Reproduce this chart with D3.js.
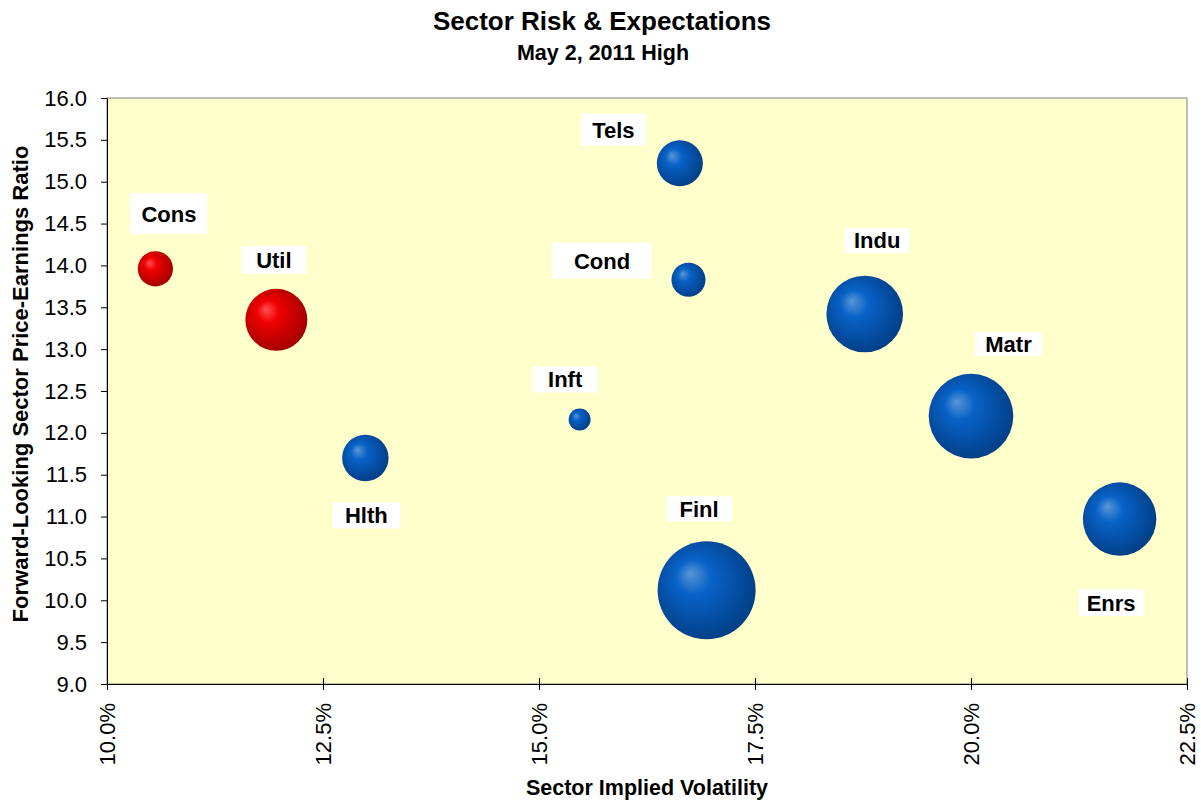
<!DOCTYPE html>
<html>
<head>
<meta charset="utf-8">
<script src="https://cdn.jsdelivr.net/npm/d3@7"></script>
<style>
  body { margin: 0; background: #fff; }
  text { font-family: "Liberation Sans", Arial, sans-serif; fill: #000; }
</style>
</head>
<body>
<div id="chart"></div>
<script>
// sector data
var sectors = ["Cons", "Util", "Hlth", "Inft", "Tels", "Cond", "Finl", "Indu", "Matr", "Enrs"];
var volatility = [10.56, 11.96, 12.99, 15.47, 16.63, 16.73, 16.94, 18.77, 20.0, 21.72]; // %
var forwardPE = [13.96, 13.35, 11.70, 12.16, 15.22, 13.83, 10.12, 13.42, 12.20, 10.97];
var bubbleSize = [3.1, 9.6, 5.4, 1.2, 5.3, 2.9, 24.0, 14.7, 17.9, 13.5];
var group = ["defensive", "defensive", "other", "other", "other", "other", "other", "other", "other", "other"];

var xTicks = [10, 12.5, 15, 17.5, 20, 22.5];
var yTicks = [9, 9.5, 10, 10.5, 11, 11.5, 12, 12.5, 13, 13.5, 14, 14.5, 15, 15.5, 16];

// label box placement relative to the bubble centre (pixels)
var labelLayout = [
    {dx: 13.5, dy: -55, w: 77, h: 41},
    {dx: -2.5, dy: -60, w: 65, h: 28},
    {dx: 1, dy: 57.5, w: 68, h: 26},
    {dx: -14.5, dy: -40, w: 65, h: 26},
    {dx: -66.5, dy: -33.5, w: 65, h: 32},
    {dx: -86.5, dy: -19, w: 99, h: 36},
    {dx: -7.5, dy: -81.5, w: 66, h: 25},
    {dx: 12.5, dy: -73.5, w: 65, h: 25},
    {dx: 37.5, dy: -72, w: 67, h: 24},
    {dx: -8.5, dy: 83.5, w: 65, h: 27}
];

var width = 1201, height = 800;
var margin = {top: 98, right: 14, bottom: 116, left: 107};
var plotW = width - margin.left - margin.right,
    plotH = height - margin.top - margin.bottom;

var svg = d3.select("#chart").append("svg")
    .attr("width", width)
    .attr("height", height);

// sphere-looking gradients
var defs = svg.append("defs");
function sphere(id, hi, mid, edge) {
    var g = defs.append("radialGradient")
        .attr("id", id)
        .attr("cx", "0.45").attr("cy", "0.45")
        .attr("fx", "0.33").attr("fy", "0.33")
        .attr("r", "0.6");
    g.append("stop").attr("offset", "0%").attr("stop-color", hi);
    g.append("stop").attr("offset", "30%").attr("stop-color", mid);
    g.append("stop").attr("offset", "100%").attr("stop-color", edge);
}
sphere("blueBall", "#5a96d6", "#0862c8", "#023c82");
sphere("redBall", "#ff5050", "#f00000", "#9e0000");

var x = d3.scaleLinear().domain([10, 22.5]).range([0, plotW]);
var y = d3.scaleLinear().domain([9, 16]).range([plotH, 0]);
var r = d3.scaleSqrt().domain([0, d3.max(bubbleSize)]).range([0, 49]);

var g = svg.append("g")
    .attr("transform", "translate(" + margin.left + "," + margin.top + ")");

// plot area
g.append("rect")
    .attr("width", plotW)
    .attr("height", plotH)
    .attr("fill", "#ffffcc")
    .attr("stroke", "#808080")
    .attr("stroke-width", 1);

// y axis
var yAxis = g.append("g")
    .call(d3.axisLeft(y).tickValues(yTicks).tickSize(6).tickSizeOuter(0).tickFormat(d3.format(".1f")));
yAxis.select(".domain").attr("stroke", "#000");
yAxis.selectAll(".tick line").attr("stroke", "#000");
yAxis.selectAll("text")
    .attr("x", -20)
    .style("font-size", "22px");

// x axis, ticks cross the axis line
var xAxis = g.append("g")
    .attr("transform", "translate(0," + plotH + ")")
    .call(d3.axisBottom(x).tickValues(xTicks).tickSize(6).tickSizeOuter(0)
        .tickFormat(function(d) { return d3.format(".1f")(d) + "%"; }));
xAxis.select(".domain").attr("stroke", "#000");
xAxis.selectAll(".tick line").attr("stroke", "#000").attr("y1", -6);
xAxis.selectAll("text")
    .attr("transform", "rotate(-90)")
    .attr("x", -19)
    .attr("y", 0)
    .attr("dy", "0.35em")
    .attr("text-anchor", "end")
    .style("font-size", "22px");

// bubbles
var data = sectors.map(function(name, i) {
    return {name: name, vol: volatility[i], pe: forwardPE[i], size: bubbleSize[i], group: group[i], lab: labelLayout[i]};
});

g.selectAll("circle.bubble")
    .data(data.slice().sort(function(a, b) { return b.size - a.size; }))
    .enter().append("circle")
    .attr("class", "bubble")
    .attr("cx", function(d) { return x(d.vol); })
    .attr("cy", function(d) { return y(d.pe); })
    .attr("r", function(d) { return r(d.size); })
    .attr("fill", function(d) { return d.group === "defensive" ? "url(#redBall)" : "url(#blueBall)"; });

// data labels in white boxes
var labels = g.selectAll("g.label")
    .data(data)
    .enter().append("g")
    .attr("class", "label")
    .attr("transform", function(d) {
        return "translate(" + (x(d.vol) + d.lab.dx) + "," + (y(d.pe) + d.lab.dy) + ")";
    });

labels.append("rect")
    .attr("x", function(d) { return -d.lab.w / 2; })
    .attr("y", function(d) { return -d.lab.h / 2; })
    .attr("width", function(d) { return d.lab.w; })
    .attr("height", function(d) { return d.lab.h; })
    .attr("fill", "#fff");

labels.append("text")
    .attr("text-anchor", "middle")
    .attr("dy", "0.36em")
    .style("font-size", "22px")
    .style("font-weight", "bold")
    .text(function(d) { return d.name; });

// titles
svg.append("text")
    .attr("x", 602)
    .attr("y", 30)
    .attr("text-anchor", "middle")
    .style("font-size", "26px")
    .style("font-weight", "bold")
    .text("Sector Risk & Expectations");

svg.append("text")
    .attr("x", 603)
    .attr("y", 60)
    .attr("text-anchor", "middle")
    .style("font-size", "21.5px")
    .style("font-weight", "bold")
    .text("May 2, 2011 High");

svg.append("text")
    .attr("x", margin.left + plotW / 2)
    .attr("y", 795)
    .attr("text-anchor", "middle")
    .style("font-size", "21.5px")
    .style("font-weight", "bold")
    .text("Sector Implied Volatility");

svg.append("text")
    .attr("transform", "translate(28," + 384 + ") rotate(-90)")
    .attr("text-anchor", "middle")
    .style("font-size", "22px")
    .style("font-weight", "bold")
    .text("Forward-Looking Sector Price-Earnings Ratio");
</script>
</body>
</html>
